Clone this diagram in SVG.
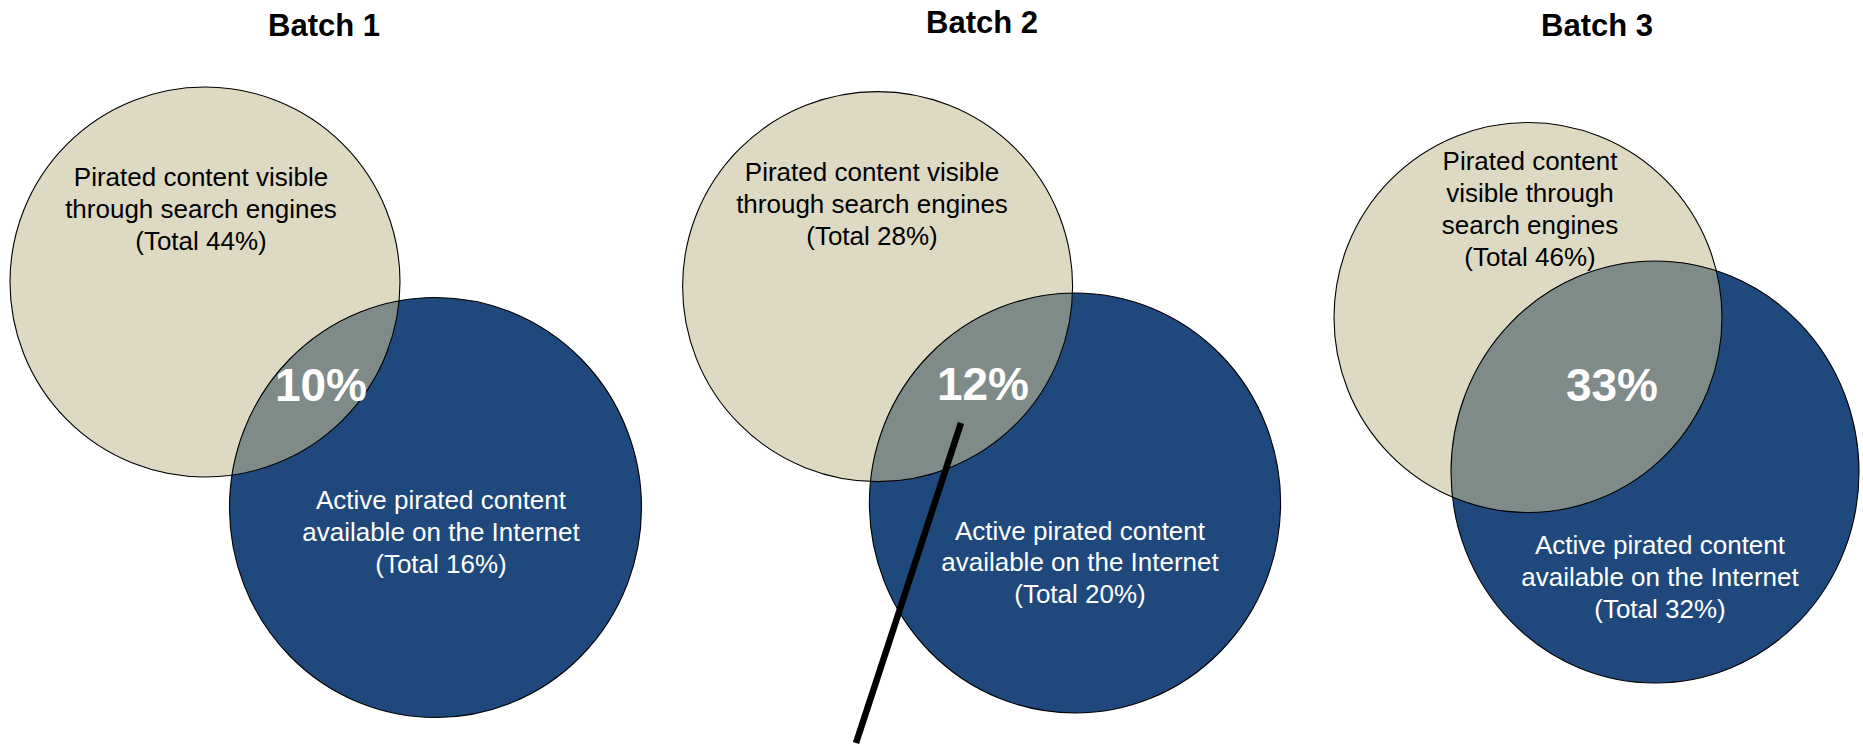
<svg xmlns="http://www.w3.org/2000/svg" width="1863" height="744" viewBox="0 0 1863 744">
<style>
.title{font-family:"Liberation Sans",Arial,sans-serif;font-weight:bold;font-size:31px;fill:#000;text-anchor:middle}
.dark{font-family:"Liberation Sans",Arial,sans-serif;font-size:26px;fill:#000;text-anchor:middle}
.light{font-family:"Liberation Sans",Arial,sans-serif;font-size:26px;fill:#fff;text-anchor:middle}
.pct{font-family:"Liberation Sans",Arial,sans-serif;font-weight:bold;font-size:46px;fill:#fff;text-anchor:middle}
.beige{fill:#DDD9C3}
.blue{fill:#1F497D}
.over{fill:#7F8B88}
.edge{fill:none;stroke:#000;stroke-width:1.1}
</style>
<defs>
<clipPath id="c1"><ellipse cx="205" cy="282" rx="195" ry="195"/></clipPath>
<clipPath id="c2"><ellipse cx="877.6" cy="286.6" rx="195" ry="195"/></clipPath>
<clipPath id="c3"><ellipse cx="1528" cy="317.5" rx="194" ry="195"/></clipPath>
</defs>
<rect width="1863" height="744" fill="#fff"/>

<g id="batch1">
<text class="title" x="324" y="36">Batch 1</text>
<g id="b1-search">
<ellipse class="beige" cx="205" cy="282" rx="195" ry="195"/>
</g>
<g id="b1-active">
<ellipse class="blue" cx="435.5" cy="507.5" rx="206" ry="210"/>
</g>
<g id="b1-overlap">
<ellipse class="over" cx="435.5" cy="507.5" rx="206" ry="210" clip-path="url(#c1)"/>
<ellipse class="edge" cx="205" cy="282" rx="195" ry="195"/>
<ellipse class="edge" cx="435.5" cy="507.5" rx="206" ry="210"/>
</g>
<text class="dark" x="201" y="186">Pirated content visible</text>
<text class="dark" x="201" y="218">through search engines</text>
<text class="dark" x="201" y="250">(Total 44%)</text>
<text class="light" x="441" y="509">Active pirated content</text>
<text class="light" x="441" y="541">available on the Internet</text>
<text class="light" x="441" y="573">(Total 16%)</text>
<text class="pct" x="321" y="401">10%</text>
</g>

<g id="batch2">
<text class="title" x="982" y="33">Batch 2</text>
<g id="b2-search">
<ellipse class="beige" cx="877.6" cy="286.6" rx="195" ry="195"/>
</g>
<g id="b2-active">
<ellipse class="blue" cx="1075" cy="503" rx="205.6" ry="210"/>
</g>
<g id="b2-overlap">
<ellipse class="over" cx="1075" cy="503" rx="205.6" ry="210" clip-path="url(#c2)"/>
<ellipse class="edge" cx="877.6" cy="286.6" rx="195" ry="195"/>
<ellipse class="edge" cx="1075" cy="503" rx="205.6" ry="210"/>
</g>
<text class="dark" x="872" y="181">Pirated content visible</text>
<text class="dark" x="872" y="213">through search engines</text>
<text class="dark" x="872" y="245">(Total 28%)</text>
<text class="light" x="1080" y="540">Active pirated content</text>
<text class="light" x="1080" y="571">available on the Internet</text>
<text class="light" x="1080" y="603">(Total 20%)</text>
<text class="pct" x="983" y="400">12%</text>
</g>

<g id="batch3">
<text class="title" x="1597" y="36">Batch 3</text>
<g id="b3-search">
<ellipse class="beige" cx="1528" cy="317.5" rx="194" ry="195"/>
</g>
<g id="b3-active">
<ellipse class="blue" cx="1655" cy="472" rx="204" ry="211"/>
</g>
<g id="b3-overlap">
<ellipse class="over" cx="1655" cy="472" rx="204" ry="211" clip-path="url(#c3)"/>
<ellipse class="edge" cx="1528" cy="317.5" rx="194" ry="195"/>
<ellipse class="edge" cx="1655" cy="472" rx="204" ry="211"/>
</g>
<text class="dark" x="1530" y="170">Pirated content</text>
<text class="dark" x="1530" y="202">visible through</text>
<text class="dark" x="1530" y="234">search engines</text>
<text class="dark" x="1530" y="266">(Total 46%)</text>
<text class="light" x="1660" y="554">Active pirated content</text>
<text class="light" x="1660" y="586">available on the Internet</text>
<text class="light" x="1660" y="618">(Total 32%)</text>
<text class="pct" x="1612" y="401">33%</text>
</g>

<g id="connectors">
<line x1="961" y1="423" x2="856" y2="743" stroke="#000" stroke-width="6.5"/>
</g>
</svg>
